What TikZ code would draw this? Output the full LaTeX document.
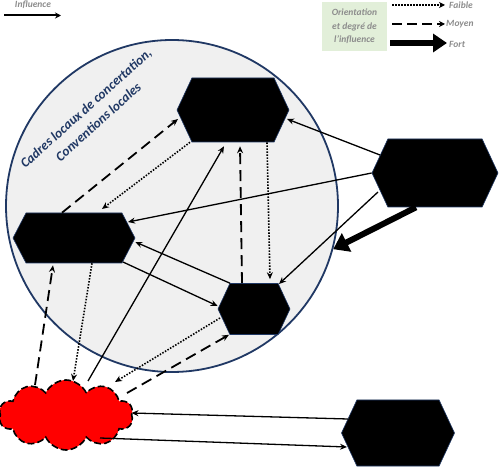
\documentclass[tikz,border=0pt]{standalone}
\usepackage{fontspec}
\setmainfont{Carlito}
\usetikzlibrary{shapes.symbols,arrows.meta,calc}
\definecolor{navy}{HTML}{203864}
\definecolor{lgray}{HTML}{F0F0F0}
\definecolor{lgreen}{HTML}{E2EFD9}
\definecolor{tgray}{HTML}{8C8C8C}
\begin{document}
\begin{tikzpicture}[x=1pt,y=-1pt,
 hexa/.style={signal, signal to=east and west, signal pointer angle=130, fill=black, draw=navy, line width=0.6pt, inner sep=0pt},
 tip/.style={-{Stealth[length=7pt,width=6pt]}},
 solidarrow/.style={line width=1.3pt, tip},
 dasharrow/.style={line width=1.8pt, dash pattern=on 11pt off 6pt, tip},
 dotarrow/.style={line width=1.6pt, dash pattern=on 1.5pt off 1.5pt, tip},
 legtxt/.style={text=tgray, font=\bfseries\itshape\fontsize{9.5}{12}\selectfont, inner sep=0pt},
 ]
\useasboundingbox (0,0) rectangle (499,468);
% big circle
\node[circle, draw=navy, line width=1.8pt, fill=lgray, minimum size=332pt, inner sep=0pt] (zone) at (172,206) {};
\node[rotate=42, text=navy, font=\bfseries\itshape\fontsize{13.5}{18.5}\selectfont, align=center, inner sep=0pt] (ztxt) at (92,115) {Cadres locaux de concertation,\\Conventions locales};
% hexagons
\node[hexa, minimum width=112pt, minimum height=64pt] (A) at (233,110) {};
\node[hexa, minimum width=126pt, minimum height=68pt] (B) at (435,173) {};
\node[hexa, minimum width=122pt, minimum height=50pt, signal pointer angle=125] (C) at (74,238) {};
\node[hexa, minimum width=72pt, minimum height=51pt] (D) at (254,309) {};
\node[hexa, minimum width=113pt, minimum height=66pt] (E) at (398,433) {};
% cloud
\node[cloud, cloud puffs=10, cloud puff arc=130, aspect=2, fill=red, draw=black, line width=1.6pt, dash pattern=on 7pt off 3pt, minimum width=134pt, minimum height=70pt, inner sep=0pt] (K) at (66,415) {};
% connectors
\draw[solidarrow] ($(B)+(-55,-18)$) -- ($(A)+(54,9)$);
\draw[solidarrow] (B.west) -- ($(C)+(54,-16)$);
\draw[solidarrow] ($(B)+(-57,19)$) -- ($(D)+(25,-25)$);
\draw[line width=6pt, -{Triangle[length=15pt,width=20pt]}] ($(B.south)+(-19,0)$) -- (zone.-15);
\draw[dasharrow] ($(C.north)+(-12,0)$) -- ($(A)+(-55,9)$);
\draw[dotarrow] ($(A.south)+(-43,0)$) -- ($(C)+(28,-29)$);
\draw[solidarrow] ($(K)+(22,-34)$) -- ($(A.south)+(-9,4)$);
\draw[dasharrow] ($(D.north)+(-12,0)$) -- ($(A.south)+(7,4)$);
\draw[dotarrow] ($(A.south)+(34,0)$) -- ($(D.north)+(16,-4)$);
\draw[solidarrow] ($(D.north)+(-24,0)$) -- ($(C.east)+(0,4)$);
\draw[solidarrow] ($(C)+(49,24)$) -- ($(D.west)+(0,-3)$);
\draw[dasharrow] ($(K)+(-31,-30)$) -- ($(C.south)+(-21,2)$);
\draw[dotarrow] ($(C.south)+(18,0)$) -- ($(K)+(7,-34)$);
\draw[dotarrow] ($(D)+(-34,9)$) -- ($(K)+(49,-33)$);
\draw[dasharrow] ($(K)+(61,-22)$) -- ($(D.south)+(-25,0)$);
\draw[solidarrow] ($(E)+(-50,-14)$) -- ($(K.east)+(-1,-2)$);
\draw[solidarrow] ($(K)+(34,23)$) -- ($(E)+(-51,14)$);
% legend
\node[legtxt] (inf) at (33,5) {Influence};
\coordinate (ia) at (4,15.5);
\coordinate (ib) at (61,15.5);
\draw[line width=2pt, -{Stealth[length=6pt,width=6pt]}] (ia) -- (ib);
\node[fill=lgreen, minimum width=65pt, minimum height=49pt, inner sep=0pt] (lbox) at (354.5,26.5) {};
\node[legtxt, align=center, font=\bfseries\itshape\fontsize{9.5}{13.5}\selectfont] (ltxt) at (lbox) {Orientation\\et degré de\\l'influence};
\coordinate (f1) at (392,5);
\coordinate (f2) at (445,5);
\coordinate (m1) at (392,24);
\coordinate (m2) at (445,24);
\coordinate (t1) at (390,43);
\coordinate (t2) at (447,43);
\draw[line width=1.6pt, dash pattern=on 1.5pt off 1.5pt, -{Stealth[length=6pt,width=6pt]}] (f1) -- (f2);
\draw[line width=1.8pt, dash pattern=on 10pt off 5pt, -{Stealth[length=6pt,width=6pt]}] (m1) -- (m2);
\draw[line width=6.5pt, -{Triangle[length=14pt,width=18pt]}] (t1) -- (t2);
\node[legtxt, anchor=west] (lf) at (449,5) {Faible};
\node[legtxt, anchor=west] (lm) at (446,24) {Moyen};
\node[legtxt, anchor=west] (lt) at (449,44) {Fort};
\end{tikzpicture}
\end{document}
